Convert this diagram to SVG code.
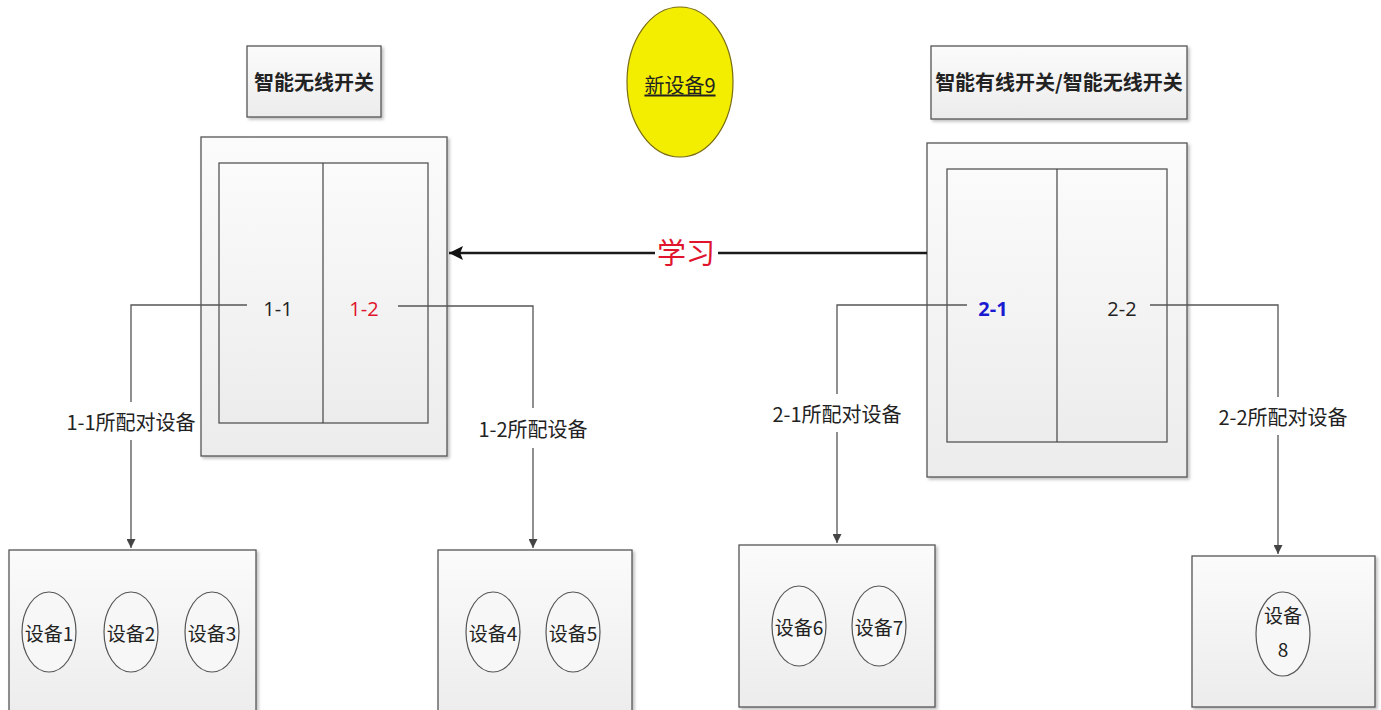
<svg xmlns="http://www.w3.org/2000/svg" width="1381" height="710" viewBox="0 0 1381 710">
<defs>
<linearGradient id="g" x1="0" y1="0" x2="0" y2="1"><stop offset="0" stop-color="#fbfbfb"/><stop offset="1" stop-color="#ececec"/></linearGradient>
<filter id="sh" x="-5%" y="-5%" width="115%" height="115%"><feDropShadow dx="2" dy="2" stdDeviation="1.5" flood-color="#000" flood-opacity="0.25"/></filter>
<marker id="a" viewBox="0 0 10 10" refX="10" refY="5" markerWidth="9" markerHeight="9" markerUnits="userSpaceOnUse" orient="auto"><path d="M0,0 L10,5 L0,10 z" fill="#444"/></marker>
<marker id="ab" viewBox="0 0 10 10" refX="10" refY="5" markerWidth="14" markerHeight="14" markerUnits="userSpaceOnUse" orient="auto"><path d="M0,0 L10,5 L0,10 L2,5 z" fill="#111"/></marker>
</defs>
<style>
.box{fill:url(#g);stroke:#555;stroke-width:1.3;filter:url(#sh)}
.inner{fill:url(#g);stroke:#555;stroke-width:1.3}
.dev{fill:#f7f7f7;stroke:#555;stroke-width:1.2}
.t{font-family:"Noto Sans CJK SC","Liberation Sans",sans-serif;text-anchor:middle;dominant-baseline:central;fill:#222}
.title{font-size:20px;font-weight:bold}
.lbl{font-size:20px}
.dt{font-size:19px}
.num{font-family:"Open Sans","Liberation Sans",sans-serif;font-size:20px;text-anchor:middle;dominant-baseline:central;fill:#222}
.c{fill:none;stroke:#555;stroke-width:1.3}
</style>
<rect width="1381" height="710" fill="#fff"/>

<g id="title-left"><rect class="box" x="247" y="46" width="134" height="71"/><text class="t title" x="314" y="81">智能无线开关</text></g>
<g id="title-right"><rect class="box" x="931" y="46" width="256" height="73"/><text class="t title" x="1059" y="81">智能有线开关/智能无线开关</text></g>

<g id="new-device9"><ellipse cx="680" cy="82" rx="53" ry="75" fill="#f3ee00" stroke="#7a6d10" stroke-width="1.2"/><text class="t" x="680" y="84" font-size="20" text-decoration="underline">新设备9</text></g>

<g id="switch1">
<rect class="box" x="201" y="137" width="246" height="319"/>
<rect class="inner" x="219" y="163" width="209" height="260"/>
<line x1="323" y1="163" x2="323" y2="423" stroke="#444" stroke-width="1.2"/>
<text class="num" x="278" y="308">1-1</text>
<text class="num" x="364" y="308" style="fill:#e0142c">1-2</text>
</g>

<g id="switch2">
<rect class="box" x="927" y="143" width="260" height="334"/>
<rect class="inner" x="947" y="169" width="220" height="273"/>
<line x1="1057" y1="169" x2="1057" y2="442" stroke="#444" stroke-width="1.2"/>
<text class="num" x="993" y="308" font-weight="bold" style="fill:#1a1ad0">2-1</text>
<text class="num" x="1122" y="308">2-2</text>
</g>

<g id="group1">
<rect class="box" x="9" y="550" width="247" height="170"/>
<ellipse class="dev" cx="49" cy="632" rx="27" ry="40"/><text class="t dt" x="49" y="632">设备1</text>
<ellipse class="dev" cx="131" cy="632" rx="27" ry="40"/><text class="t dt" x="131" y="632">设备2</text>
<ellipse class="dev" cx="212" cy="632" rx="27" ry="40"/><text class="t dt" x="212" y="632">设备3</text>
</g>
<g id="group2">
<rect class="box" x="438" y="550" width="194" height="170"/>
<ellipse class="dev" cx="493" cy="632" rx="27" ry="40"/><text class="t dt" x="493" y="632">设备4</text>
<ellipse class="dev" cx="573" cy="632" rx="27" ry="40"/><text class="t dt" x="573" y="632">设备5</text>
</g>
<g id="group3">
<rect class="box" x="739" y="545" width="196" height="162"/>
<ellipse class="dev" cx="799" cy="626" rx="27" ry="40"/><text class="t dt" x="799" y="626">设备6</text>
<ellipse class="dev" cx="879" cy="626" rx="27" ry="40"/><text class="t dt" x="879" y="626">设备7</text>
</g>
<g id="group4">
<rect class="box" x="1192" y="556" width="183" height="151"/>
<ellipse class="dev" cx="1283" cy="634" rx="27" ry="42"/><text class="t dt" x="1283" y="614">设备</text><text class="t dt" x="1283" y="648">8</text>
</g>

<g id="connectors">
<path class="c" d="M247,305 H131 V402 M131,440 V548" marker-end="url(#a)"/>
<path class="c" d="M398,306 H533 V408 M533,448 V548" marker-end="url(#a)"/>
<path class="c" d="M967,305 H837 V394 M837,432 V543" marker-end="url(#a)"/>
<path class="c" d="M1150,305 H1278 V397 M1278,435 V554" marker-end="url(#a)"/>
<path d="M927,253 H718 M655,253 H449" fill="none" stroke="#1a1a1a" stroke-width="2.5" marker-end="url(#ab)"/>
<text class="t" x="686" y="251" font-size="29" style="fill:#e0142c">学习</text>
<text class="t lbl" x="131" y="421">1-1所配对设备</text>
<text class="t lbl" x="533" y="428">1-2所配设备</text>
<text class="t lbl" x="837" y="413">2-1所配对设备</text>
<text class="t lbl" x="1283" y="416">2-2所配对设备</text>
</g>
</svg>
